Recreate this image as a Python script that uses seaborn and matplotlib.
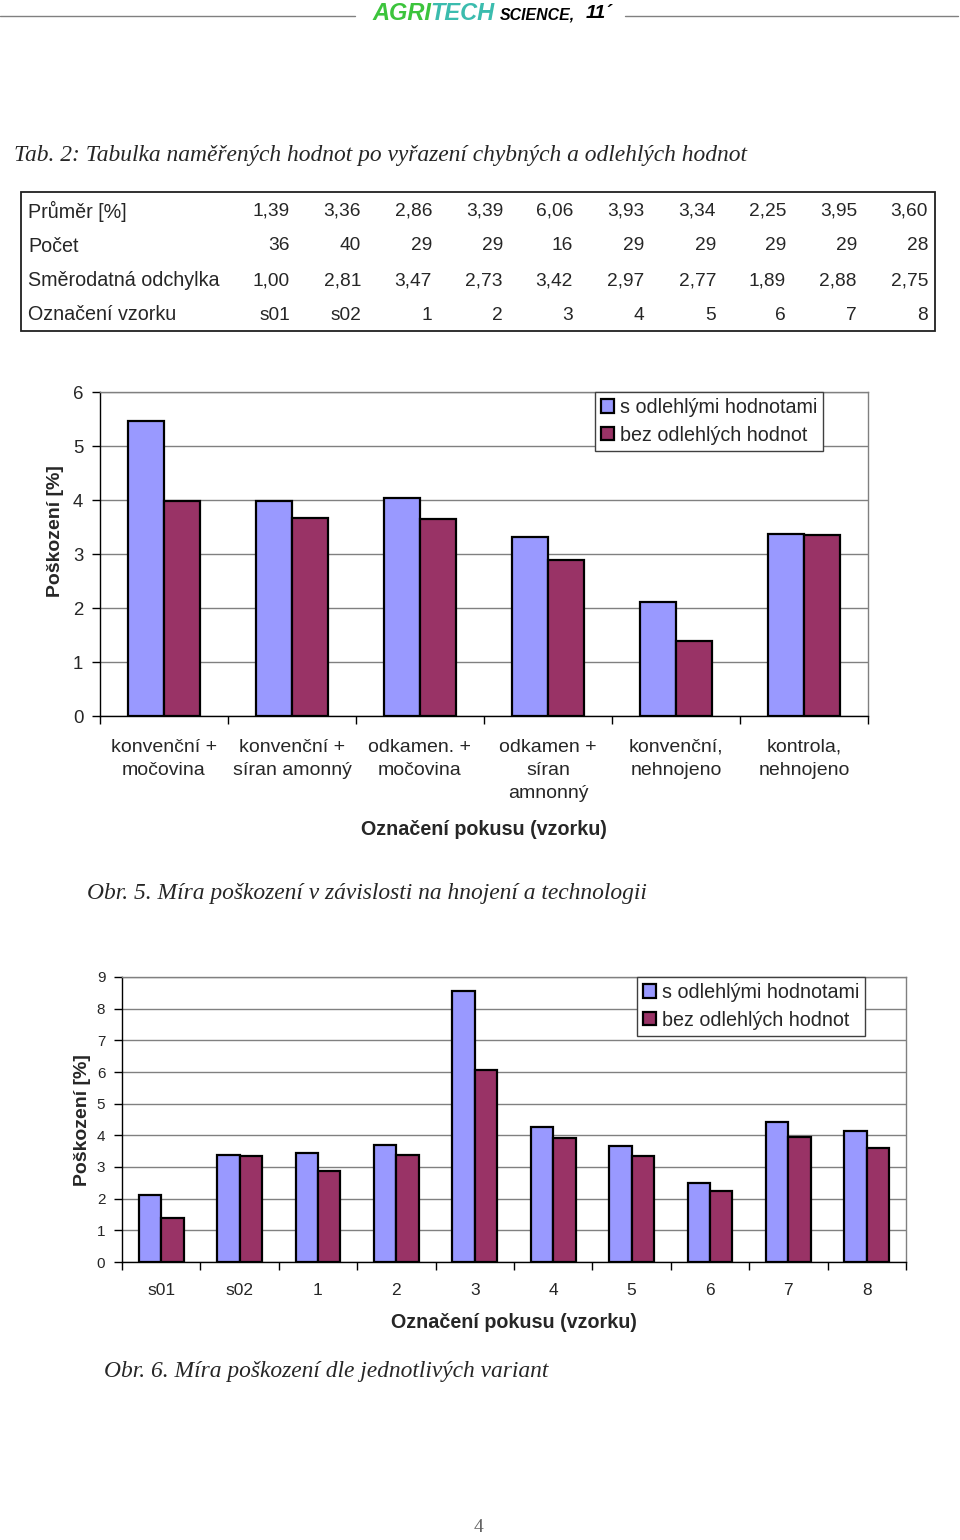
import pandas as pd
import seaborn as sns
import matplotlib.pyplot as plt
from matplotlib.lines import Line2D
from matplotlib.patches import Rectangle

# data - table 2
vzorky = ['s01', 's02', '1', '2', '3', '4', '5', '6', '7', '8']
prumer = [1.39, 3.36, 2.86, 3.39, 6.06, 3.93, 3.34, 2.25, 3.95, 3.60]
pocet = [36, 40, 29, 29, 16, 29, 29, 29, 29, 28]
odchylka = [1.00, 2.81, 3.47, 2.73, 3.42, 2.97, 2.77, 1.89, 2.88, 2.75]

# data - obr. 5
varianty = ['konvenční +\nmočovina', 'konvenční +\nsíran amonný', 'odkamen. +\nmočovina',
            'odkamen +\nsíran\namnonný', 'konvenční,\nnehnojeno', 'kontrola,\nnehnojeno']
var_s_odl = [5.47, 3.98, 4.04, 3.32, 2.12, 3.37]
var_bez_odl = [3.99, 3.67, 3.64, 2.89, 1.39, 3.36]

# data - obr. 6 (bez odlehlych = prumer z tabulky)
vz_s_odl = [2.11, 3.37, 3.43, 3.70, 8.55, 4.26, 3.66, 2.49, 4.41, 4.13]
vz_bez_odl = prumer

serie = ['s odlehlými hodnotami', 'bez odlehlých hodnot']
barvy = ['#9999FF', '#993366']

sns.set_theme(style='white')
plt.rcParams['font.family'] = ['Liberation Sans', 'DejaVu Sans']

W, H = 960, 1540
fig = plt.figure(figsize=(W / 100, H / 100), dpi=100)


def fx(px):
    return px / W


def fy(py):
    return 1 - py / H


def txt(x, y, s, **kw):
    fig.text(fx(x), fy(y), s, **kw)


# header
fig.add_artist(Line2D([fx(0), fx(355)], [fy(16), fy(16)], color='#808080', lw=1))
fig.add_artist(Line2D([fx(625), fx(958)], [fy(16), fy(16)], color='#808080', lw=1))
hkw = dict(va='center', ha='left', style='italic', weight='bold')
txt(372, 13, 'AGRI', color='#3cc43c', fontsize=17, **hkw)
txt(430, 13, 'TECH', color='#3bbcae', fontsize=17, **hkw)
txt(500, 15, 'SCIENCE,', color='black', fontsize=11.4, **hkw)
txt(586, 14, '11´', color='black', fontsize=14, **hkw)

# table
serif = ['Liberation Serif', 'DejaVu Serif']
txt(14, 156, 'Tab. 2: Tabulka naměřených hodnot po vyřazení chybných a odlehlých hodnot',
    family=serif, style='italic', fontsize=16.9, va='center', ha='left')
fig.add_artist(Rectangle((fx(21), fy(331)), fx(935 - 21), (331 - 192) / H,
                         transform=fig.transFigure, fill=False, ec='#202020', lw=1.3))
radky = [('Průměr [%]', [f'{v:.2f}'.replace('.', ',') for v in prumer]),
         ('Počet', [str(v) for v in pocet]),
         ('Směrodatná odchylka', [f'{v:.2f}'.replace('.', ',') for v in odchylka]),
         ('Označení vzorku', vzorky)]
sloupce_x = [290, 361, 432, 503, 573, 644, 716, 786, 857, 928]
for (nazev, hodn), ry in zip(radky, [211, 246, 281, 315]):
    txt(28, ry, nazev, fontsize=14.2, va='center', ha='left')
    for x, h in zip(sloupce_x, hodn):
        txt(x, ry, h, fontsize=13.8, va='center', ha='right')


def graf(ax, kategorie, s_odl, bez_odl, ymax, ytick_fs, xtick_fs, xpad, leg_x,
         ylab_x, ylab_y, xlab_y):
    df = pd.DataFrame({
        'kat': list(kategorie) * 2,
        'hodnota': list(s_odl) + list(bez_odl),
        'serie': [serie[0]] * len(kategorie) + [serie[1]] * len(kategorie),
    })
    sns.barplot(data=df, x='kat', y='hodnota', hue='serie', palette=barvy, width=0.57,
                edgecolor='black', linewidth=1.6, saturation=1, ax=ax)
    n = len(kategorie)
    ax.set_xlim(-0.5, n - 0.5)
    ax.set_ylim(0, ymax)
    ax.set_yticks(range(ymax + 1))
    ax.yaxis.grid(True, color='#808080', lw=1)
    ax.set_axisbelow(True)
    for s in ['left', 'bottom']:
        ax.spines[s].set_color('black')
        ax.spines[s].set_linewidth(1)
    for s in ['top', 'right']:
        ax.spines[s].set_color('#808080')
        ax.spines[s].set_linewidth(1)
    ax.tick_params(axis='y', which='major', left=True, length=6, width=1, color='black',
                   labelsize=ytick_fs, pad=6)
    ax.set_xticks([i - 0.5 for i in range(n + 1)], minor=True)
    ax.tick_params(axis='x', which='minor', bottom=True, length=6, width=1, color='black')
    ax.tick_params(axis='x', which='major', bottom=False, length=0, labelsize=xtick_fs, pad=xpad)
    for t in ax.get_xticklabels():
        t.set_linespacing(1.45)
    ax.set_ylabel('Poškození [%]', fontsize=14, weight='bold')
    ax.yaxis.set_label_coords(ylab_x, ylab_y)
    ax.set_xlabel('Označení pokusu (vzorku)', fontsize=14.2, weight='bold')
    ax.xaxis.set_label_coords(0.5, xlab_y)
    ax.legend(loc='upper left', bbox_to_anchor=(leg_x, 1.0), borderaxespad=0, fontsize=14.2,
              frameon=True, fancybox=False, edgecolor='#404040', framealpha=1,
              handlelength=0.65, handleheight=0.65, handletextpad=0.3, labelspacing=0.45,
              borderpad=0.3)
    ax.get_legend().get_frame().set_linewidth(1)


# obr. 5
ax1 = fig.add_axes([fx(100), fy(716), fx(868 - 100), (716 - 392) / H])
graf(ax1, varianty, var_s_odl, var_bez_odl, 6, 13.4, 14, 16.5, (595 - 100) / 768,
     (64 - 100) / 768, (716 - 531.5) / 324, (716 - 820) / 324)
txt(87, 894, 'Obr. 5. Míra poškození v závislosti na hnojení a technologii',
    family=serif, style='italic', fontsize=16.9, va='center', ha='left')

# obr. 6
ax2 = fig.add_axes([fx(122), fy(1262), fx(906 - 122), (1262 - 977) / H])
graf(ax2, vzorky, vz_s_odl, vz_bez_odl, 9, 11, 12.5, 15, (637 - 122) / 784,
     (91 - 122) / 784, (1262 - 1120.5) / 285, (1262 - 1313) / 285)
txt(104, 1372, 'Obr. 6. Míra poškození dle jednotlivých variant',
    family=serif, style='italic', fontsize=16.9, va='center', ha='left')

txt(478, 1528, '4', family=serif, fontsize=14, color='#606060', va='center', ha='center')

fig.savefig('out.png', dpi=100)
